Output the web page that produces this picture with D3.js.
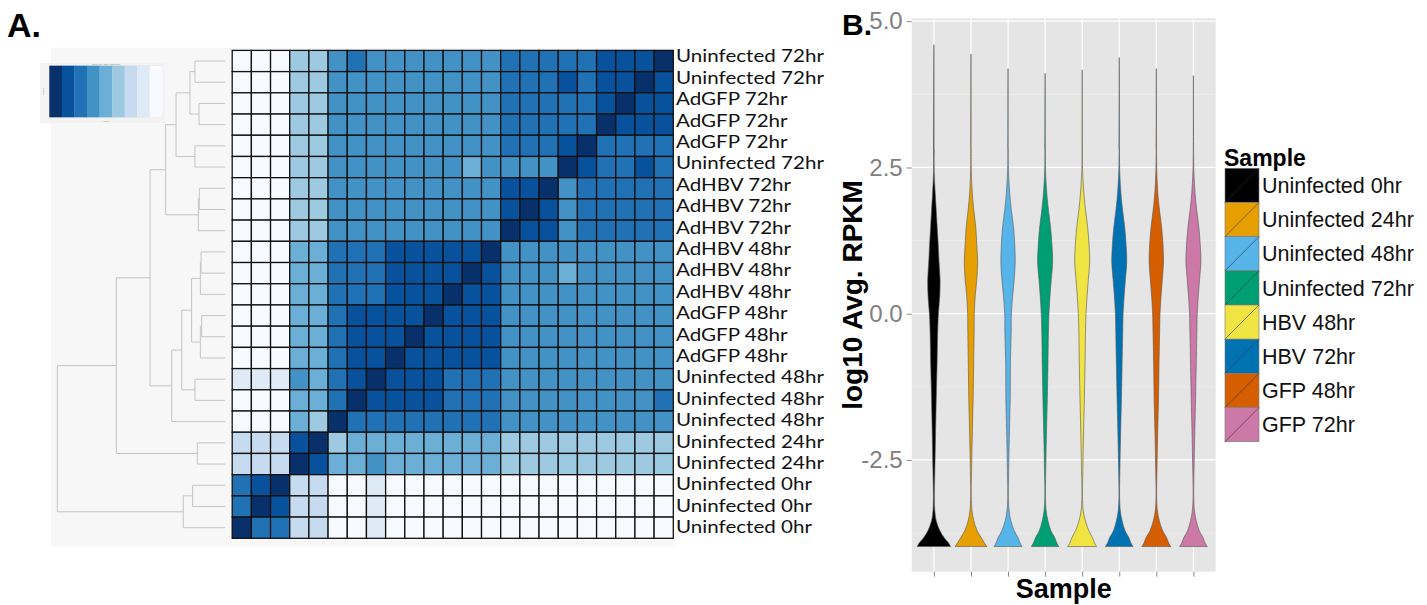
<!DOCTYPE html>
<html><head><meta charset="utf-8">
<script src="https://cdn.jsdelivr.net/npm/d3@7"></script>
<style>body{margin:0;background:#fff}svg{display:block}</style>
</head><body>
<svg id="c" width="1427" height="605"></svg>
<script>
// ---------------- Panel A data ----------------
const rowLabels = [
  "Uninfected 72hr","Uninfected 72hr","AdGFP 72hr","AdGFP 72hr","AdGFP 72hr","Uninfected 72hr",
  "AdHBV 72hr","AdHBV 72hr","AdHBV 72hr","AdHBV 48hr","AdHBV 48hr","AdHBV 48hr",
  "AdGFP 48hr","AdGFP 48hr","AdGFP 48hr","Uninfected 48hr","Uninfected 48hr","Uninfected 48hr",
  "Uninfected 24hr","Uninfected 24hr","Uninfected 0hr","Uninfected 0hr","Uninfected 0hr"
];
// colour-bin value of each cell (0 = lightest ... 8 = darkest), rows top->bottom, columns left->right
const heatValues = [
  [0,0,0,3,3,5,6,5,5,5,5,5,5,5,6,6,6,6,6,7,7,7,8],
  [0,0,0,3,3,5,5,5,5,5,5,5,5,5,6,6,6,7,6,7,7,8,7],
  [0,0,0,3,3,5,5,5,5,5,5,5,5,5,6,6,6,6,6,7,8,7,7],
  [0,0,0,3,3,5,5,5,5,5,5,5,5,5,6,6,6,6,6,8,7,7,7],
  [0,0,0,3,3,5,5,5,5,5,5,5,5,5,6,6,6,7,8,6,6,6,6],
  [0,0,0,3,3,5,5,5,5,5,5,5,4,5,5,5,5,8,7,6,6,7,6],
  [0,0,0,3,3,5,5,5,5,5,5,5,5,5,7,7,8,5,6,6,6,6,6],
  [0,0,0,3,3,5,5,5,5,5,5,5,5,5,7,8,7,5,6,6,6,6,6],
  [0,0,0,3,3,5,5,5,5,5,5,5,5,5,8,7,7,5,6,6,6,6,6],
  [0,0,0,4,4,6,6,6,7,7,7,7,7,8,5,5,5,5,5,5,5,5,5],
  [0,0,0,4,4,6,6,6,7,7,7,7,8,7,5,5,5,4,5,5,5,5,5],
  [0,0,0,4,4,6,6,6,7,7,7,8,7,7,5,5,5,5,5,5,5,5,5],
  [0,0,0,4,4,6,7,7,7,7,8,7,7,7,5,5,5,5,5,5,5,5,5],
  [0,0,0,4,4,6,7,7,7,8,7,7,7,7,5,5,5,5,5,5,5,5,5],
  [0,0,0,4,4,6,7,7,8,7,7,7,7,7,5,5,5,5,5,5,5,5,5],
  [1,1,1,5,4,6,7,8,7,7,7,6,6,6,5,5,5,5,5,5,5,5,5],
  [0,0,0,4,4,6,8,7,7,7,7,6,6,6,5,5,5,5,5,5,5,5,6],
  [0,0,0,4,3,8,6,6,6,6,6,6,6,6,5,5,5,5,5,5,5,5,5],
  [2,2,2,7,8,3,4,4,4,4,4,4,4,4,3,3,3,3,3,3,3,3,3],
  [2,2,2,8,7,4,4,5,4,4,4,4,4,4,3,3,3,3,3,3,3,3,3],
  [6,7,8,2,2,0,0,1,0,0,0,0,0,0,0,0,0,0,0,0,0,0,0],
  [6,8,7,2,2,0,0,1,0,0,0,0,0,0,0,0,0,0,0,0,0,0,0],
  [8,6,6,2,2,0,0,1,0,0,0,0,0,0,0,0,0,0,0,0,0,0,0]
];
const keyBins = [8,7,6,5,4,3,2,1,0];
// hclust-style merges: negative = leaf (row index+1), positive = earlier merge number; height 0..1
const merges = [
  [-1,-2,0.179],[-3,-4,0.155],[1,2,0.209],[-5,-6,0.179],[3,4,0.292],
  [-7,-8,0.153],[6,-9,0.159],[5,7,0.354],[-10,-11,0.143],[9,-12,0.147],
  [-13,-14,0.139],[11,-15,0.147],[10,12,0.199],[-16,-17,0.179],[13,14,0.258],
  [15,-18,0.318],[8,16,0.447],[-19,-20,0.165],[17,18,0.648],[-21,-22,0.193],
  [20,-23,0.249],[19,21,1.0]
];

// ---------------- Panel B data ----------------
const samples = ["Uninfected 0hr","Uninfected 24hr","Uninfected 48hr","Uninfected 72hr","HBV 48hr","HBV 72hr","GFP 48hr","GFP 72hr"];
const sampleColors = ["#000000","#E69F00","#56B4E9","#009E73","#F0E442","#0072B2","#D55E00","#CC79A7"];
const violinLevels = [-3.98,-3.92,-3.83,-3.71,-3.54,-3.36,-3.12,-2.65,-2.06,-1.47,-0.88,-0.29,0,0.29,0.59,0.88,1.18,1.47,1.77,2.06,2.42,2.8];
const densU0  = [1.00,0.88,0.62,0.36,0.14,0.054,0.03,0.06,0.10,0.14,0.19,0.23,0.27,0.35,0.37,0.31,0.26,0.20,0.14,0.08,0.02,0.015];
const densU24 = [0.95,0.81,0.62,0.37,0.17,0.06,0.02,0.04,0.08,0.13,0.16,0.19,0.20,0.25,0.35,0.40,0.35,0.29,0.17,0.08,0.024,0.012];
const densU48 = [0.84,0.72,0.60,0.37,0.17,0.06,0.02,0.04,0.08,0.13,0.14,0.19,0.20,0.27,0.37,0.43,0.40,0.33,0.20,0.10,0.03,0.012];
const densU72 = [0.83,0.70,0.58,0.35,0.17,0.06,0.02,0.04,0.08,0.13,0.17,0.20,0.23,0.29,0.37,0.45,0.41,0.33,0.20,0.10,0.03,0.012];
const densH48 = [0.87,0.74,0.62,0.40,0.19,0.06,0.02,0.04,0.08,0.13,0.17,0.20,0.23,0.29,0.37,0.45,0.41,0.33,0.20,0.10,0.03,0.012];
const densH72 = [0.83,0.70,0.58,0.35,0.17,0.06,0.02,0.04,0.08,0.13,0.17,0.21,0.23,0.29,0.37,0.45,0.41,0.33,0.20,0.10,0.03,0.012];
const densG48 = [0.87,0.74,0.62,0.38,0.18,0.06,0.02,0.04,0.08,0.13,0.16,0.20,0.22,0.28,0.36,0.43,0.40,0.32,0.19,0.09,0.03,0.012];
const densG72 = [0.83,0.70,0.58,0.35,0.17,0.06,0.02,0.04,0.08,0.13,0.17,0.21,0.23,0.29,0.37,0.45,0.41,0.33,0.20,0.10,0.03,0.012];
const violinDens = [densU0,densU24,densU48,densU72,densH48,densH72,densG48,densG72];
const violinMax = [4.60,4.44,4.19,4.11,4.17,4.38,4.19,4.07];
const yMajor = [-2.5,0,2.5,5];
const yMinor = [-3.75,-1.25,1.25,3.75];

// ================= drawing =================
const svg = d3.select("#c");
const SANS = "'Liberation Sans', Arial, sans-serif";

// ---- Panel A ----
svg.append("text").attr("x",7).attr("y",37).attr("font-family",SANS).attr("font-weight","bold")
  .attr("font-size",34).text("A.");

svg.append("rect").attr("x",50.7).attr("y",47.7).attr("width",673.3-50.7).attr("height",546-47.7).attr("fill","#f7f7f7");

const blues = d3.scaleQuantize().domain([-0.5,8.5]).range(d3.schemeBlues[9]);
const idx = d3.range(rowLabels.length);
const yCell = d3.scaleBand().domain(idx).range([50.4,538.3]);
const xCell = d3.scaleBand().domain(idx).range([232.2,673.3]);

const cells = svg.append("g");
heatValues.forEach((row,r)=>{
  cells.selectAll(null).data(row).enter().append("rect")
    .attr("x",(d,c)=>xCell(c)).attr("y",yCell(r))
    .attr("width",xCell.bandwidth()).attr("height",yCell.bandwidth())
    .attr("fill",d=>blues(d)).attr("stroke","#111").attr("stroke-width",1.3);
});

// row labels
const yLab = d3.scaleBand().domain(idx).range([45.3,537.7]);
const labG = svg.append("g");
const probe = labG.append("text").attr("font-family","Lato, 'Open Sans', sans-serif").attr("font-size",17.5).text("Uninfected 72hr");
const natW = probe.node().getComputedTextLength();
probe.remove();
const sx = 148/natW;
labG.selectAll("text").data(rowLabels).enter().append("text")
  .attr("transform",(d,i)=>`translate(676,${yLab(i)+yLab.bandwidth()/2}) scale(${sx},1)`)
  .attr("dy","0.36em").attr("font-family","Lato, 'Open Sans', sans-serif").attr("font-size",17.5)
  .attr("fill","#111").text(d=>d);

// dendrogram
const dx = d3.scaleLinear().domain([0,1]).range([225,57.3]);
const nodes = [];
const pos = id => id<0 ? {x:dx(0), y:yCell(-id-1)+yCell.bandwidth()/2} : nodes[id-1];
merges.forEach(([a,b,h])=>{
  const A=pos(a), B=pos(b), x=dx(h);
  nodes.push({x, y:(A.y+B.y)/2, A, B});
});
svg.append("g").selectAll("path").data(nodes).enter().append("path")
  .attr("d",n=>`M${n.A.x},${n.A.y}H${n.x}V${n.B.y}H${n.B.x}`)
  .attr("fill","none").attr("stroke","#c4c4c4").attr("stroke-width",1);

// colour key (tiny)
const kg = svg.append("g");
kg.append("rect").attr("x",40).attr("y",63).attr("width",125).attr("height",60).attr("fill","#f3f3f3");
kg.append("rect").attr("x",49.3).attr("y",65.7).attr("width",113).attr("height",51.6).attr("fill","#fff").attr("stroke","#ddd").attr("stroke-width",0.5);
const xKey = d3.scaleBand().domain(keyBins).range([49.3,162.3]);
kg.selectAll("rect.k").data(keyBins).enter().append("rect").attr("class","k")
  .attr("x",d=>xKey(d)).attr("y",65.7).attr("width",xKey.bandwidth()+0.3).attr("height",51.6).attr("fill",d=>blues(d));
kg.append("text").attr("x",106).attr("y",65).attr("text-anchor","middle").attr("font-family",SANS).attr("font-size",2.5).attr("fill","#888").text("Color Key and Histogram");
kg.append("text").attr("x",106).attr("y",122).attr("text-anchor","middle").attr("font-family",SANS).attr("font-size",2.5).attr("fill","#888").text("Value");
kg.append("text").attr("transform","translate(44,92) rotate(-90)").attr("text-anchor","middle").attr("font-family",SANS).attr("font-size",2.5).attr("fill","#888").text("Count");

// ---- Panel B ----
const px0=911.7, px1=1215.7, py0=18.3, py1=571.7;
const yV = d3.scaleLinear().domain([-4.41,5.05]).range([py1,py0]);
const xV = d3.scalePoint().domain(samples).range([933.9,1193.4]);
const wV = d3.scaleLinear().domain([0,1]).range([0,16.7]);

svg.append("rect").attr("x",px0).attr("y",py0).attr("width",px1-px0).attr("height",py1-py0).attr("fill","#e5e5e5");
const grid = svg.append("g").attr("stroke","#fff");
grid.selectAll("line.mi").data(yMinor).enter().append("line").attr("class","mi")
  .attr("x1",px0).attr("x2",px1).attr("y1",d=>yV(d)).attr("y2",d=>yV(d)).attr("stroke-width",0.6).attr("stroke","#f0f0f0");
grid.selectAll("line.ma").data(yMajor).enter().append("line").attr("class","ma")
  .attr("x1",px0).attr("x2",px1).attr("y1",d=>yV(d)).attr("y2",d=>yV(d)).attr("stroke-width",1.2);
grid.selectAll("line.vx").data(samples).enter().append("line").attr("class","vx")
  .attr("y1",py0).attr("y2",py1).attr("x1",d=>xV(d)).attr("x2",d=>xV(d)).attr("stroke-width",1.2);

// violins
samples.forEach((s,i)=>{
  const cx = xV(s);
  const pts = violinLevels.map((v,k)=>[v, violinDens[i][k]]);
  pts.push([violinMax[i],0.0]);
  const area = d3.area().curve(d3.curveCatmullRom.alpha(0.5))
    .y(d=>yV(d[0])).x0(d=>cx-wV(d[1])).x1(d=>cx+wV(d[1]));
  svg.append("path").attr("d",area(pts)).attr("fill",sampleColors[i])
    .attr("stroke","#555").attr("stroke-width",0.6);
});

// axes
const yAx = svg.append("g").attr("transform",`translate(${px0},0)`)
  .call(d3.axisLeft(yV).tickValues(yMajor).tickFormat(d=>d.toFixed(1)).tickSize(5).tickPadding(4));
yAx.select(".domain").remove();
yAx.selectAll("line").attr("stroke","#888");
yAx.selectAll("text").attr("font-family",SANS).attr("font-size",24).attr("fill","#808080");
const xAx = svg.append("g").attr("transform",`translate(0,${py1})`)
  .call(d3.axisBottom(xV).tickSize(5).tickFormat(""));
xAx.select(".domain").remove();
xAx.selectAll("line").attr("stroke","#888");

svg.append("text").attr("transform",`translate(862,${(py0+py1)/2}) rotate(-90)`).attr("text-anchor","middle")
  .attr("font-family",SANS).attr("font-weight","bold").attr("font-size",28).text("log10 Avg. RPKM");
svg.append("text").attr("x",(px0+px1)/2).attr("y",598).attr("text-anchor","middle")
  .attr("font-family",SANS).attr("font-weight","bold").attr("font-size",27).text("Sample");
svg.append("text").attr("x",842).attr("y",35).attr("font-family",SANS).attr("font-weight","bold")
  .attr("font-size",30).text("B.");

// legend
const yLeg = d3.scaleBand().domain(samples).range([168.3,441.7]);
const lg = svg.append("g");
lg.append("text").attr("x",1224).attr("y",166).attr("font-family",SANS).attr("font-weight","bold").attr("font-size",23).text("Sample");
samples.forEach((s,i)=>{
  const y0 = yLeg(s), h = yLeg.bandwidth();
  lg.append("rect").attr("x",1225).attr("y",y0).attr("width",34).attr("height",h)
    .attr("fill",sampleColors[i]).attr("stroke","#777").attr("stroke-width",0.6);
  lg.append("line").attr("x1",1225).attr("y1",y0+h).attr("x2",1259).attr("y2",y0)
    .attr("stroke","#333").attr("stroke-width",0.6);
  lg.append("text").attr("x",1262).attr("y",y0+h/2).attr("dy","0.36em").attr("font-family",SANS)
    .attr("font-size",21.5).attr("fill","#111").text(s);
});
</script>
</body></html>
